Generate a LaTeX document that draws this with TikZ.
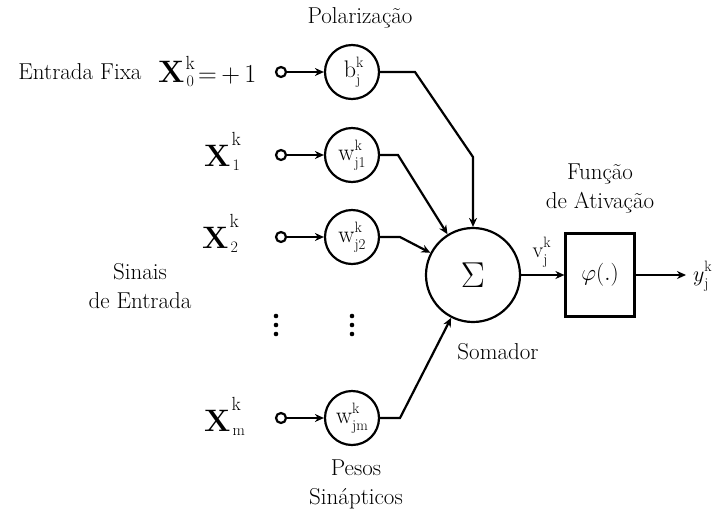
\RequirePackage{fix-cm}
\documentclass[tikz,border=0pt]{standalone}
\usetikzlibrary{arrows.meta}
\newcommand{\xlab}[3]{\textbf{X}\makebox[0pt][l]{\hspace{1pt}\raisebox{#3}{\fontsize{19}{19}\selectfont k}}\hspace{2pt}\raisebox{-4pt}{\fontsize{16}{16}\selectfont #1}#2}
\newcommand{\wlab}[2]{#1\makebox[0pt][l]{\raisebox{10pt}{\fontsize{15}{15}\selectfont k}}\raisebox{-7pt}{\fontsize{15}{15}\selectfont #2}}
\begin{document}
\begin{tikzpicture}[x=1pt,y=-1pt,
  wt/.style={circle,draw,line width=2.2pt,minimum size=54pt,inner sep=0pt,font=\fontsize{24}{24}\selectfont},
  inp/.style={circle,draw,line width=2.2pt,minimum size=10pt,inner sep=0pt,fill=white},
  con/.style={line width=2.2pt},
  arr/.style={con,-{Stealth[length=9pt,width=8pt]}},
  lbl/.style={font=\fontsize{23}{29}\selectfont,align=center,inner sep=0pt},
  xl/.style={font=\fontsize{31}{34}\selectfont,inner sep=0pt},
  dotn/.style={circle,fill,minimum size=4.6pt,inner sep=0pt}
]
\useasboundingbox (0,0) rectangle (718,515);
% texts
\node[lbl] (pol) at (360,18) {Polarização};
\node[lbl] (fixa) at (80,72) {Entrada Fixa};
\node[lbl] (sinais) at (140,286) {Sinais\\de Entrada};
\node[lbl] (pesos) at (356,484) {Pesos\\Sinápticos};
\node[lbl] (soma) at (498,352) {Somador};
\node[lbl] (func) at (600,188) {Função\\de Ativação};
% input labels
\node[xl,anchor=west] (x0) at (158,72) {\xlab{0}{\fontsize{26}{26}\selectfont\,=\,+\,1}{13pt}};
\node[xl,anchor=west] (x1) at (204,151) {\xlab{1}{}{21pt}};
\node[xl,anchor=west] (x2) at (202,233) {\xlab{2}{}{21pt}};
\node[xl,anchor=west] (xm) at (204,416) {\xlab{m}{}{21pt}};
% input terminals
\node[inp] (i0) at (281,72) {};
\node[inp] (i1) at (281,155) {};
\node[inp] (i2) at (281,237) {};
\node[inp] (im) at (281,418) {};
% weights
\node[wt] (b) at (352,72) {\wlab{b}{j}};
\node[wt] (w1) at (352,155) {\wlab{w}{j1}};
\node[wt] (w2) at (352,237) {\wlab{w}{j2}};
\node[wt] (wm) at (352,418) {\wlab{w}{jm}};
% dots
\node[dotn] (d1a) at (276,316) {};
\node[dotn] (d1b) at (276,325) {};
\node[dotn] (d1c) at (276,334) {};
\node[dotn] (d2a) at (352,316) {};
\node[dotn] (d2b) at (352,325) {};
\node[dotn] (d2c) at (352,334) {};
% sum and activation
\node[circle,draw,line width=2.2pt,minimum size=94pt,inner sep=0pt,font=\fontsize{36}{38}\selectfont] (sum) at (473,275) {$\Sigma$};
\node[draw,line width=2.2pt,minimum width=69pt,minimum height=83pt,inner sep=0pt,font=\fontsize{23}{24}\selectfont] (phi) at (600,275) {$\varphi(\mathbf{.})$};
\coordinate (yend) at (686,275);
\node[font=\fontsize{22}{22}\selectfont,anchor=west,inner sep=0pt] (y) at (693,276) {\wlab{$y$}{j}};
\node[font=\fontsize{22}{22}\selectfont,inner sep=0pt] (v) at (540,252) {\wlab{v}{j}};
% connectors
\draw[arr] (i0) -- (b);
\draw[arr] (i1) -- (w1);
\draw[arr] (i2) -- (w2);
\draw[arr] (im) -- (wm);
\coordinate (kb1) at (415,72);
\coordinate (kb2) at (473,157);
\coordinate (k1) at (398,155);
\coordinate (k2) at (400,237);
\coordinate (km) at (400,418);
\draw[arr] (b.east) -- (kb1) -- (kb2) -- (sum.north);
\draw[arr] (w1.east) -- (k1) -- (sum);
\draw[arr] (w2.east) -- (k2) -- (sum);
\draw[arr] (wm.east) -- (km) -- (sum);
\draw[arr] (sum) -- (phi);
\draw[arr] (phi) -- (yend);
\end{tikzpicture}
\end{document}
